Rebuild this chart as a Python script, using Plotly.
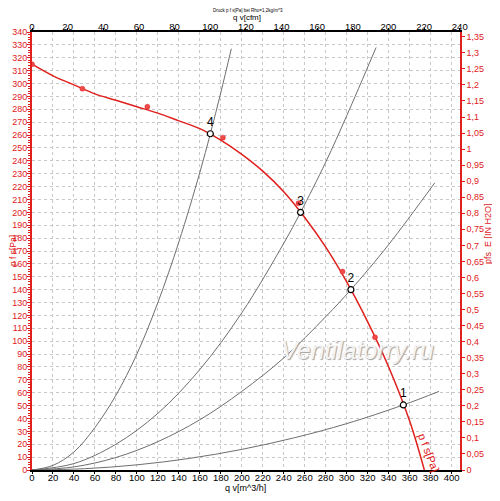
import plotly.graph_objects as go

# fan curve p_fs [Pa] over q_v [m^3/h]
fan_q = [0, 20, 40, 60, 80, 100, 120, 140, 160, 180, 200, 220, 240, 260, 280, 300, 320, 340, 360, 374]
fan_p = [315, 306, 299, 292, 287, 282, 277, 271, 265, 256, 245, 232, 216, 196, 173, 146, 115, 80, 38, 0]

# measured points on the fan curve
meas_q = [0, 48, 110, 182, 254, 296, 327]
meas_p = [315, 296, 282, 258, 207, 154, 103]

# system curves
sys4_q = [0, 20, 40, 60, 80, 100, 120, 140, 160, 170, 180, 190]
sys4_p = [0, 3.6, 14, 33, 58, 90, 130, 177, 231, 261, 293, 327]
sys3_q = [0, 40, 80, 120, 160, 200, 240, 256, 280, 300, 328]
sys3_p = [0, 5, 20, 44, 78, 122, 176, 200, 239, 275, 328]
sys2_q = [0, 40, 80, 120, 160, 200, 240, 280, 304, 340, 384]
sys2_p = [0, 2.4, 9.7, 22, 39, 61, 87, 119, 140, 175, 223]
sys1_q = [0, 50, 100, 150, 200, 250, 300, 354, 388]
sys1_p = [0, 1, 4, 9, 16, 25, 36, 50.5, 61]

# operating points
op_q = [354, 304, 256, 170]
op_p = [50.5, 140, 200, 261]
op_labels = ["1", "2", "3", "4"]

q_max = 408.0
p_max = 340.0
M3H_PER_CFM = 1.699
PA_PER_INH2O = 249.089

RED = "#e0201c"
FONT = "Arial, Liberation Sans, sans-serif"

fig = go.Figure()

for qs, ps in [(sys4_q, sys4_p), (sys3_q, sys3_p), (sys2_q, sys2_p), (sys1_q, sys1_p)]:
    fig.add_trace(go.Scatter(x=qs, y=ps, mode="lines", line=dict(color="#6e6e6e", width=1, shape="spline"),
                             hoverinfo="skip", showlegend=False))

fig.add_trace(go.Scatter(x=fan_q, y=fan_p, mode="lines", line=dict(color=RED, width=1.5, shape="spline"),
                         showlegend=False))
fig.add_trace(go.Scatter(x=meas_q, y=meas_p, mode="markers",
                         marker=dict(color="#f04a4a", size=5, line=dict(color="#e02020", width=0.5)),
                         showlegend=False))
fig.add_trace(go.Scatter(x=op_q, y=op_p, mode="markers+text", text=op_labels, textposition="top center",
                         textfont=dict(size=12, color="black", family=FONT),
                         marker=dict(color="white", size=6, line=dict(color="black", width=1.2)),
                         showlegend=False))

# dummy traces to activate secondary axes
fig.add_trace(go.Scatter(x=[0], y=[0], xaxis="x2", yaxis="y", mode="markers", marker=dict(opacity=0),
                         hoverinfo="skip", showlegend=False))
fig.add_trace(go.Scatter(x=[0], y=[0], xaxis="x", yaxis="y2", mode="markers", marker=dict(opacity=0),
                         hoverinfo="skip", showlegend=False))

# the page puts the figure 8px in from the top-left corner
fig.update_layout(
    width=484, height=485,
    margin=dict(l=24, r=32, t=24, b=23, autoexpand=False),
    paper_bgcolor="white", plot_bgcolor="white",
    separators=", ",
    font=dict(family=FONT, size=9, color="black"),
    xaxis=dict(range=[0, q_max], dtick=20, tick0=0, showgrid=True, gridcolor="#c8c8c8", griddash="dot",
               gridwidth=1, zeroline=False, showline=True, linecolor="black", linewidth=1.5, automargin=False,
               ticks="outside", ticklen=2, tickcolor="black", tickfont=dict(size=9.5), ticklabelstandoff=-4),
    xaxis2=dict(range=[0, q_max / M3H_PER_CFM], dtick=20, tick0=0, overlaying="x", side="top",
                showgrid=False, zeroline=False, showline=True, linecolor="black", linewidth=2, automargin=False,
                ticks="outside", ticklen=2, tickcolor="black", tickfont=dict(size=9.5), ticklabelstandoff=-6),
    yaxis=dict(range=[0, p_max], dtick=10, tick0=0, showgrid=True, gridcolor="#c8c8c8", griddash="dot",
               gridwidth=1, zeroline=False, showline=True, linecolor=RED, linewidth=2, automargin=False,
               ticks="outside", ticklen=3, tickcolor=RED, tickfont=dict(size=9, color=RED),
               ticklabelstandoff=-2,
               minor=dict(dtick=2, ticks="outside", ticklen=2, tickcolor=RED, showgrid=False)),
    yaxis2=dict(range=[0, p_max / PA_PER_INH2O], dtick=0.05, tick0=0, overlaying="y", side="right",
                showgrid=False, zeroline=False, showline=True, linecolor=RED, linewidth=1.5, automargin=False,
                ticks="outside", ticklen=3, tickcolor=RED, tickfont=dict(size=9, color=RED)),
)

annotations = [
    dict(text="Druck p f s[Pa] bei Rho=1,2kg/m^3", x=0.505, y=1.0495, font=dict(size=4.5)),
    dict(text="q v[cfm]", x=0.502, y=1.034, font=dict(size=8)),
    dict(text="q v[m^3/h]", x=0.498, y=-0.0411, font=dict(size=9)),
    dict(text="p f s[Pa]", x=-0.0444, y=0.502, textangle=-90, font=dict(size=8.5, color=RED)),
    dict(text="pfs_E [IN H2O]", x=1.0654, y=0.541, textangle=-90, font=dict(size=9, color=RED)),
]
for a in annotations:
    a.update(xref="paper", yref="paper", showarrow=False, xanchor="center", yanchor="middle")
    a["font"]["family"] = FONT
    fig.add_annotation(**a)

fig.add_annotation(text="p f s[Pa]", x=378, y=14, xref="x", yref="y", showarrow=False, textangle=69,
                   font=dict(size=11, color=RED, family=FONT))
fig.add_annotation(text="Ventilatorry.ru", x=310, y=93, xref="x", yref="y", showarrow=False,
                   font=dict(size=25, color="#f4f4f4", family=FONT, style="italic",
                             shadow="1px 1px 1px #a0a0a0"))

fig.write_html("out.html")
